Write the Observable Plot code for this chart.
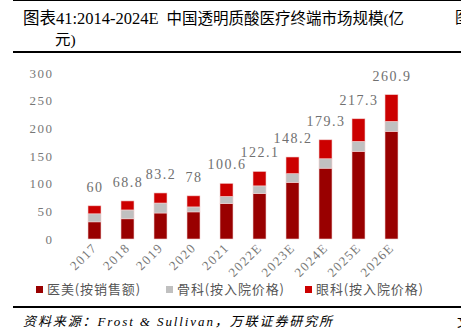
<!DOCTYPE html>
<html><head><meta charset="utf-8">
<script src="https://cdn.jsdelivr.net/npm/d3@7"></script>
<script src="https://cdn.jsdelivr.net/npm/@observablehq/plot@0.6"></script>
<style>
html,body{margin:0;padding:0;background:#fff;}
#wrap{position:relative;width:461px;height:336px;overflow:hidden;font-family:"Liberation Serif","Noto Sans CJK SC",serif;}
.abs{position:absolute;white-space:nowrap;}
#topline{left:13px;top:0;width:448px;height:1px;background:#000;}
#t1{left:23px;top:5px;font-size:15.5px;color:#000;}
#t1 .lat{font-size:16.5px;}
#t2{left:55px;top:27px;font-size:15.5px;color:#000;}
#tr{left:455px;top:5px;font-size:15.5px;color:#000;}
#hl{left:13px;top:51px;width:448px;height:2px;background:#000;}
#chart{position:absolute;left:0;top:55px;}
#legend{left:36px;top:279px;font-size:13px;color:#555;font-family:"Noto Sans CJK SC",sans-serif;letter-spacing:0.9px;}
#legend span.sw{display:inline-block;width:7px;height:7px;margin-right:4px;vertical-align:1px;}
#legend span.it{position:absolute;top:0;}
#fl{left:13px;top:306px;width:448px;height:2px;background:#000;}
#src{left:23px;top:311px;font-size:13px;font-style:italic;color:#000;letter-spacing:1.9px;}
#br{left:457px;top:311px;font-size:13px;color:#000;}
</style></head>
<body><div id="wrap">
<div class="abs" id="topline"></div>
<div class="abs" id="t1"><span class="lat">图表41:2014-2024E</span>&nbsp; 中国透明质酸医疗终端市场规模(亿</div>
<div class="abs" id="t2">元)</div>
<div class="abs" id="tr">图</div>
<div class="abs" id="hl"></div>
<div id="chart"></div>
<div class="abs" id="legend"></div>
<div class="abs" id="fl"></div>
<div class="abs" id="src">资料来源：Frost &amp; Sullivan，万联证券研究所</div>
<div class="abs" id="br">文</div>
</div>
<script>
const years = ["2017","2018","2019","2020","2021","2022E","2023E","2024E","2025E","2026E"];
const yimei = [31, 36.5, 47, 49, 64, 82, 102.4, 128, 158.5, 194.6];
const guke = [14.5, 16, 18, 9, 13, 14, 15.7, 17, 18, 18];
const yanke = [14.5, 16.3, 18.2, 20, 23.6, 26.1, 30.1, 34.3, 40.8, 48.3];
const totals = [60, 68.8, 83.2, 78, 100.6, 122.1, 148.2, 179.3, 217.3, 260.9];
const seriesNames = ["医美(按销售额)", "骨科(按入院价格)", "眼科(按入院价格)"];
const colors = ["#990000", "#c0c0c0", "#cc0000"];
const yTicks = [0, 50, 100, 150, 200, 250, 300];

const rows = [];
[yimei, guke, yanke].forEach((arr, s) => {
  arr.forEach((v, i) => rows.push({year: years[i], series: seriesNames[s], value: v}));
});
const totalRows = years.map((y, i) => ({year: y, total: totals[i]}));

const fnt = "Liberation Serif, Noto Sans CJK SC, serif";
const plot = Plot.plot({
  width: 461,
  height: 229,
  marginTop: 18,
  marginBottom: 45,
  marginLeft: 65,
  marginRight: 39.5,
  style: {fontFamily: fnt, fontSize: "13px", color: "#777", background: "transparent"},
  x: {domain: years, padding: 0.6, label: null, tickSize: 0, tickRotate: -45, tickPadding: 6},
  y: {domain: [0, 300], ticks: yTicks, label: null, tickSize: 0, tickPadding: 12},
  color: {domain: seriesNames, range: colors},
  marks: [
    Plot.barY(rows, Plot.stackY({order: null}, {x: "year", y: "value", fill: "series", stroke: "#f2d0d0", strokeWidth: 0.6})),
    Plot.text(totalRows, {x: "year", y: "total", text: d => String(d.total), dy: -19, fontSize: 14, fill: "#707070", fontFamily: fnt})
  ]
});
plot.querySelectorAll("text").forEach(t => t.style.letterSpacing = "1.5px");
document.getElementById("chart").appendChild(plot);

const lg = document.getElementById("legend");
const lefts = [0, 130, 269];
seriesNames.forEach((n, i) => {
  const s = document.createElement("span");
  s.className = "it";
  s.style.left = lefts[i] + "px";
  s.innerHTML = `<span class="sw" style="background:${colors[i]}"></span>${n}`;
  lg.appendChild(s);
});
</script>
</body></html>
